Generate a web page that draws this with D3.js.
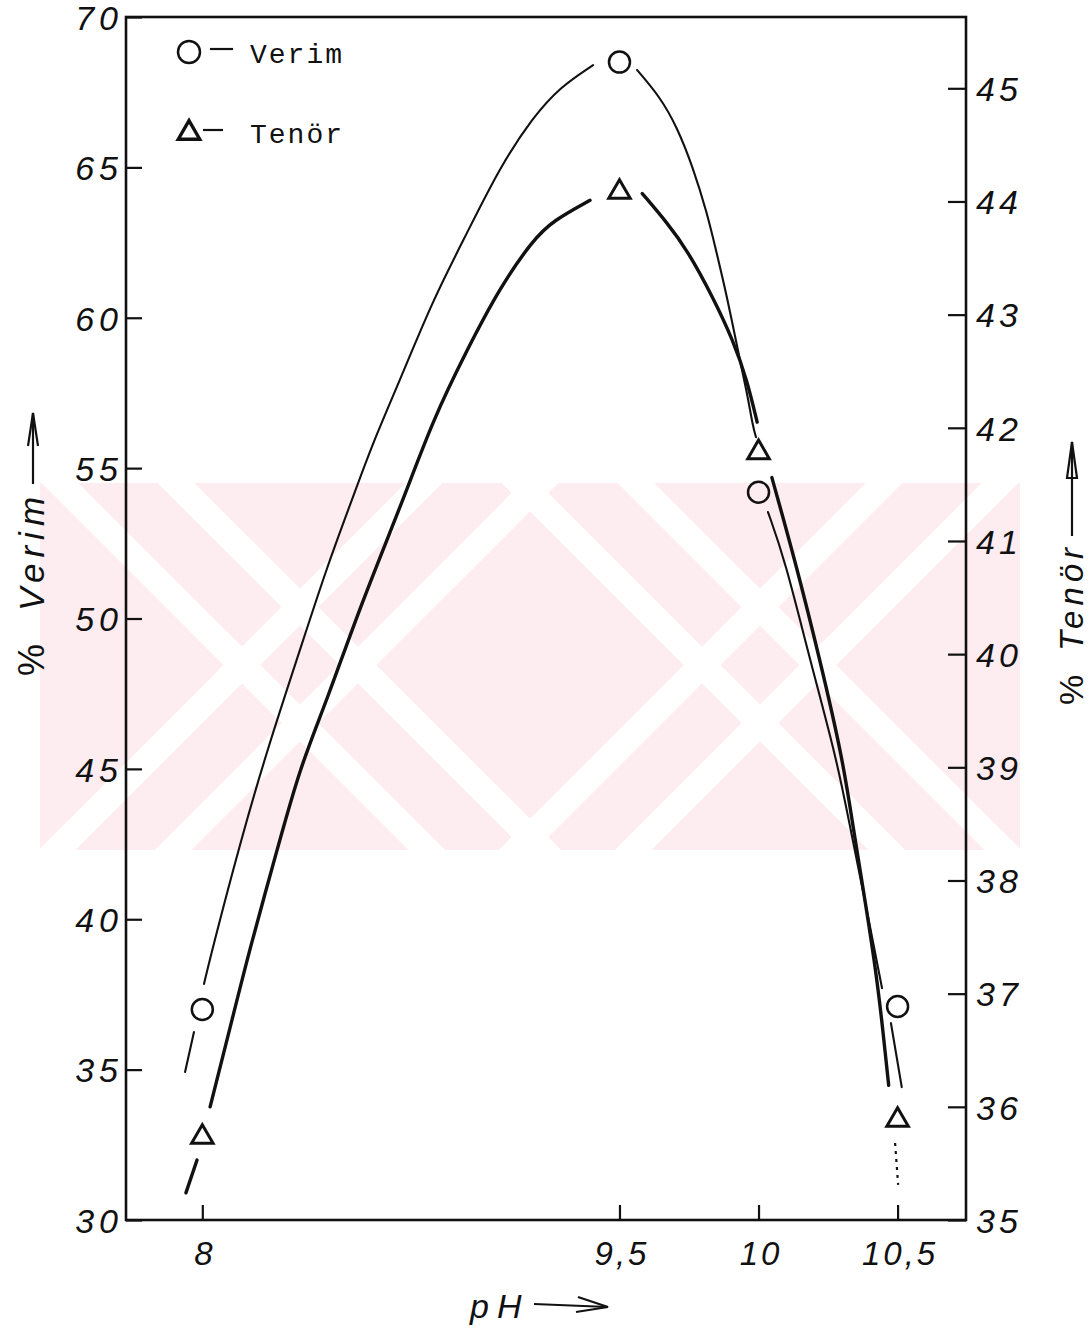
<!DOCTYPE html>
<html><head><meta charset="utf-8">
<script src="https://cdn.jsdelivr.net/npm/d3@7"></script>
<style>body{margin:0;background:#fff}svg{display:block}</style>
</head><body><svg id="c" width="1092" height="1330"></svg>
<script>
// ---- data ----
const phValues = [8, 9.5, 10, 10.5];
const verimValues = [37.0, 68.5, 54.2, 37.1];
const tenorValues = [35.75, 44.1, 41.8, 35.9];
const phTickValues = [8, 9.5, 10, 10.5];
const phTickLabels = ["8", "9,5", "10", "10,5"];
const verimTicks = [30, 35, 40, 45, 50, 55, 60, 65, 70];
const tenorTicks = [35, 36, 37, 38, 39, 40, 41, 42, 43, 44, 45];
const legendLabels = ["Verim", "Tenör"];

// hand-drawn curves (pH, value); gaps around markers
const verimCurveA = [[7.938, 34.92], [7.970, 36.25]];
const verimCurveB = [[8.006, 37.85], [8.038, 39.08], [8.136, 42.54], [8.233, 45.63], [8.351, 48.95], [8.448, 51.71], [8.538, 53.94], [8.613, 55.84], [8.711, 57.93], [8.829, 60.59], [8.952, 62.82], [9.070, 65.01], [9.189, 66.67], [9.286, 67.67], [9.405, 68.40]];
const verimCurveC = [[9.563, 68.24], [9.646, 67.34], [9.707, 66.34], [9.764, 65.01], [9.815, 63.48], [9.847, 62.25], [9.887, 60.69], [9.923, 59.03], [9.959, 57.50], [9.980, 56.37], [9.991, 56.03]];
const verimCurveD = [[10.034, 53.54], [10.095, 51.95], [10.185, 48.62], [10.282, 45.30], [10.329, 43.07], [10.386, 40.47], [10.444, 37.71]];
const verimCurveE = [[10.476, 36.55], [10.515, 34.42]];

const tenorCurveA = [[7.981, 35.53], [7.941, 35.24]];
const tenorCurveB = [[8.028, 36.00], [8.100, 36.70], [8.172, 37.41], [8.269, 38.27], [8.351, 39.00], [8.448, 39.59], [8.567, 40.42], [8.722, 41.36], [8.829, 42.07], [8.952, 42.69], [9.070, 43.24], [9.189, 43.66], [9.261, 43.83], [9.394, 44.01]];
const tenorCurveC = [[9.582, 44.07], [9.672, 43.81], [9.744, 43.57], [9.837, 43.15], [9.909, 42.77], [9.959, 42.42], [9.995, 42.05]];
const tenorCurveD = [[10.048, 41.56], [10.131, 40.83], [10.221, 39.95], [10.304, 39.06], [10.340, 38.47], [10.386, 37.78], [10.425, 37.15], [10.447, 36.68], [10.468, 36.19]];
const tenorCurveDotted = [[10.491, 35.68], [10.502, 35.31]];

// ---- layout ----
const svg = d3.select("#c");
const L = 126, R = 966, T = 17, B = 1220;
const x = d3.scaleLinear().domain([7.7256, 10.746]).range([L, R]);
const yL = d3.scaleLinear().domain([30, 70]).range([B, T]);
const yR = d3.scaleLinear().domain([35, 45.63]).range([B, T]);

const numFont = "'Liberation Sans', Arial, sans-serif";
const ink = "#111";

// faint pink watermark of the scanned page (decorative background)
const wm = svg.append("g");
svg.append("clipPath").attr("id", "wmclip").append("rect")
  .attr("x", 40).attr("y", 483).attr("width", 980).attr("height", 367);
const wmg = wm.append("g").attr("clip-path", "url(#wmclip)");
wmg.append("rect").attr("x", 40).attr("y", 483).attr("width", 980).attr("height", 367).attr("fill", "#fdecf0");
[[300, 665], [760, 665]].forEach(([cx, cy]) => {
  [-1, 1].forEach(dir => {
    [-58, 58].forEach(off => {
      wmg.append("line")
        .attr("x1", cx - 400 + off).attr("y1", cy - 400 * dir)
        .attr("x2", cx + 400 + off).attr("y2", cy + 400 * dir)
        .attr("stroke", "#fff").attr("stroke-width", 26);
    });
  });
});

// frame
svg.append("rect").attr("x", L).attr("y", T).attr("width", R - L).attr("height", B - T)
  .attr("fill", "none").attr("stroke", ink).attr("stroke-width", 2.6);

// left axis
const axL = svg.append("g").attr("transform", `translate(${L},0)`)
  .call(d3.axisRight(yL).tickValues(verimTicks).tickSize(16).tickFormat(""));
axL.select(".domain").remove();
axL.selectAll("line").attr("stroke", ink).attr("stroke-width", 2.2);
axL.selectAll(".tick").each(function(d){
  d3.select(this).append("text").attr("x", -3).attr("y", 0).attr("dy", "0.36em")
    .attr("text-anchor", "end").attr("font-family", numFont).attr("font-style", "italic")
    .attr("font-size", 34).attr("letter-spacing", 5).attr("fill", ink).text(d);
});

// right axis
const axR = svg.append("g").attr("transform", `translate(${R},0)`)
  .call(d3.axisLeft(yR).tickValues(tenorTicks).tickSize(18).tickFormat(""));
axR.select(".domain").remove();
axR.selectAll("line").attr("stroke", ink).attr("stroke-width", 2.2);
axR.selectAll(".tick").each(function(d){
  d3.select(this).append("text").attr("x", 10).attr("y", 0).attr("dy", "0.36em")
    .attr("text-anchor", "start").attr("font-family", numFont).attr("font-style", "italic")
    .attr("font-size", 34).attr("letter-spacing", 4).attr("fill", ink).text(d);
});

// bottom axis
const axB = svg.append("g").attr("transform", `translate(0,${B})`)
  .call(d3.axisTop(x).tickValues(phTickValues).tickSize(15).tickFormat(""));
axB.select(".domain").remove();
axB.selectAll("line").attr("stroke", ink).attr("stroke-width", 2.2);
axB.selectAll(".tick").each(function(d, i){
  d3.select(this).append("text").attr("x", 2).attr("y", 33).attr("dy", "0.36em")
    .attr("text-anchor", "middle").attr("font-family", numFont).attr("font-style", "italic")
    .attr("font-size", 33).attr("letter-spacing", 3).attr("fill", ink).text(phTickLabels[i]);
});

// curves
const lineL = d3.line().x(d => x(d[0])).y(d => yL(d[1])).curve(d3.curveBasis);
const lineR = d3.line().x(d => x(d[0])).y(d => yR(d[1])).curve(d3.curveBasis);
[verimCurveA, verimCurveB, verimCurveC, verimCurveD, verimCurveE].forEach(seg => {
  svg.append("path").attr("d", lineL(seg)).attr("fill", "none").attr("stroke", ink)
    .attr("stroke-width", 2.1).attr("stroke-linecap", "round");
});
[tenorCurveA, tenorCurveB, tenorCurveC, tenorCurveD].forEach(seg => {
  svg.append("path").attr("d", lineR(seg)).attr("fill", "none").attr("stroke", ink)
    .attr("stroke-width", 3.4).attr("stroke-linecap", "round");
});
svg.append("path").attr("d", lineR(tenorCurveDotted)).attr("fill", "none").attr("stroke", ink)
  .attr("stroke-width", 2.2).attr("stroke-dasharray", "3,5");

// markers
svg.selectAll("circle.v").data(phValues).join("circle").attr("class", "v")
  .attr("cx", d => x(d)).attr("cy", (d, i) => yL(verimValues[i])).attr("r", 10.5)
  .attr("fill", "none").attr("stroke", ink).attr("stroke-width", 2.5);
const tri = d3.symbol().type(d3.symbolTriangle).size(200);
svg.selectAll("path.t").data(phValues).join("path").attr("class", "t")
  .attr("transform", (d, i) => `translate(${x(d)},${yR(tenorValues[i]) + 2})`)
  .attr("d", tri).attr("fill", "none").attr("stroke", ink).attr("stroke-width", 3)
  .attr("stroke-linejoin", "miter");

// legend
const mono = "'Liberation Mono', 'DejaVu Sans Mono', monospace";
const lg = svg.append("g");
lg.append("circle").attr("cx", 189).attr("cy", 52).attr("r", 11).attr("fill", "none")
  .attr("stroke", ink).attr("stroke-width", 2.5);
lg.append("line").attr("x1", 210).attr("x2", 233).attr("y1", 49).attr("y2", 49).attr("stroke", ink).attr("stroke-width", 2.2);
lg.append("text").attr("x", 250).attr("y", 63).attr("font-family", mono).attr("font-size", 28)
  .attr("letter-spacing", 2).attr("fill", ink).text(legendLabels[0]);
lg.append("path").attr("transform", "translate(189,133)").attr("d", tri).attr("fill", "none")
  .attr("stroke", ink).attr("stroke-width", 3.4);
lg.append("line").attr("x1", 203).attr("x2", 223).attr("y1", 130).attr("y2", 130).attr("stroke", ink).attr("stroke-width", 2.2);
lg.append("text").attr("x", 250).attr("y", 143).attr("font-family", mono).attr("font-size", 28)
  .attr("letter-spacing", 2).attr("fill", ink).text(legendLabels[1]);

// axis titles
const titleFont = "'Liberation Sans', Arial, sans-serif";
// left
const lt = svg.append("g").attr("transform", "translate(33,0)");
lt.append("text").attr("transform", "translate(11,660) rotate(-90)").attr("text-anchor", "middle")
  .attr("font-family", titleFont).attr("font-size", 36).attr("fill", ink).text("%");
lt.append("text").attr("transform", "translate(11,551) rotate(-90)").attr("text-anchor", "middle")
  .attr("font-family", titleFont).attr("font-style", "italic").attr("font-size", 35)
  .attr("letter-spacing", 6).attr("fill", ink).text("Verim");
lt.append("line").attr("x1", 0).attr("x2", 0).attr("y1", 484).attr("y2", 413).attr("stroke", ink).attr("stroke-width", 2.2);
lt.append("path").attr("d", "M-5,446 L0,413 L5,446").attr("fill", "none").attr("stroke", ink).attr("stroke-width", 2.2);
// right
const rt = svg.append("g").attr("transform", "translate(1072,0)");
rt.append("text").attr("transform", "translate(11,690) rotate(-90)").attr("text-anchor", "middle")
  .attr("font-family", titleFont).attr("font-size", 34).attr("fill", ink).text("%");
rt.append("text").attr("transform", "translate(11,597) rotate(-90)").attr("text-anchor", "middle")
  .attr("font-family", titleFont).attr("font-style", "italic").attr("font-size", 33)
  .attr("letter-spacing", 5).attr("fill", ink).text("Tenör");
rt.append("line").attr("x1", 0).attr("x2", 0).attr("y1", 536).attr("y2", 442).attr("stroke", ink).attr("stroke-width", 2.2);
rt.append("path").attr("d", "M-5,478 L0,442 L5,478 Z").attr("fill", "none").attr("stroke", ink).attr("stroke-width", 2.2);
// bottom
svg.append("text").attr("x", 470).attr("y", 1318).attr("font-family", titleFont).attr("font-style", "italic")
  .attr("font-size", 34).attr("letter-spacing", 8).attr("fill", ink).text("pH");
svg.append("line").attr("x1", 534).attr("x2", 608).attr("y1", 1304).attr("y2", 1307).attr("stroke", ink).attr("stroke-width", 2.2);
svg.append("path").attr("d", "M578,1297 L608,1307 L576,1312").attr("fill", "none").attr("stroke", ink).attr("stroke-width", 2.2);
</script></body></html>
